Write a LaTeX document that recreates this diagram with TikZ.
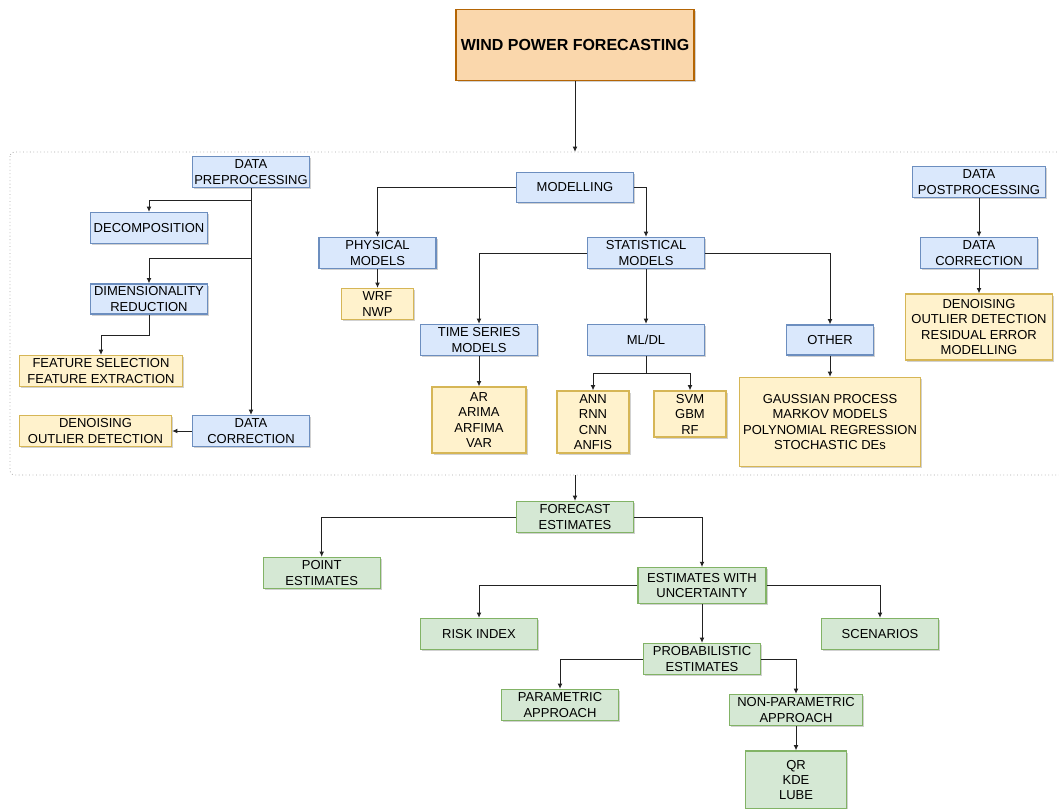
\documentclass[tikz,border=0pt]{standalone}
\usepackage{fontspec}
\setmainfont{Liberation Sans}
\usetikzlibrary{arrows.meta,shadows}
\definecolor{bfill}{HTML}{DAE8FC}\definecolor{bline}{HTML}{6C8EBF}
\definecolor{yfill}{HTML}{FFF2CC}\definecolor{yline}{HTML}{D6B656}
\definecolor{gfill}{HTML}{D5E8D4}\definecolor{gline}{HTML}{82B366}
\definecolor{ofill}{HTML}{FAD7AC}\definecolor{oline}{HTML}{B46504}
\definecolor{edgec}{HTML}{222222}
\tikzset{
  sz/.style 2 args={minimum width=#1*0.75pt, minimum height=#2*0.75pt},
  basebox/.style={draw, line width=0.9pt, inner sep=0pt, align=center,
    font=\fontsize{9.75}{11.6}\selectfont,
    drop shadow={shadow xshift=1.3pt, shadow yshift=-1.3pt, fill=black, opacity=0.18}},
  bluebox/.style={basebox, fill=bfill, draw=bline},
  yelbox/.style={basebox, fill=yfill, draw=yline},
  grnbox/.style={basebox, fill=gfill, draw=gline},
  orgbox/.style={basebox, fill=ofill, draw=oline, font=\fontsize{12}{14}\selectfont\bfseries},
  arr/.style={draw=edgec, line width=0.75pt, -{Latex[length=4pt,width=3.6pt]}},
  ln/.style={draw=edgec, line width=0.75pt},
  container/.style={draw=gray!70, dotted, line width=0.6pt, rounded corners=3pt}
}
\begin{document}
\begin{tikzpicture}[x=0.75pt,y=-0.75pt]
\useasboundingbox (0,0) rectangle (1059,808);
\clip (0,0) rectangle (1059,808);
% container
\draw[container] (10,152) rectangle (1075,475);
\coordinate (ctop) at (575,152);
\coordinate (cbot) at (575,475);
% top
\node[orgbox, sz={238}{71}] (wpf) at (575,45) {WIND POWER FORECASTING};
% preprocessing
\node[bluebox, sz={117}{31}] (pre) at (251,172) {DATA\\PREPROCESSING};
\node[bluebox, sz={117}{31}] (dec) at (149,228) {DECOMPOSITION};
\node[bluebox, sz={117}{30}] (dim) at (149,299) {DIMENSIONALITY\\REDUCTION};
\node[yelbox, sz={163}{31}] (feat) at (101,371) {FEATURE SELECTION\\FEATURE EXTRACTION};
\node[yelbox, sz={152}{31}] (den1) at (95.5,431) {DENOISING\\OUTLIER DETECTION};
\node[bluebox, sz={117}{31}] (dc1) at (251,431) {DATA\\CORRECTION};
% modelling
\node[bluebox, sz={117}{30}] (mod) at (575,187.5) {MODELLING};
\node[bluebox, sz={117}{31}] (phys) at (377.5,253) {PHYSICAL\\MODELS};
\node[yelbox, sz={72}{31}] (wrf) at (377.5,304) {WRF\\NWP};
\node[bluebox, sz={117}{31}] (stat) at (646,253) {STATISTICAL\\MODELS};
\node[bluebox, sz={117}{31}] (ts) at (479,340) {TIME SERIES\\MODELS};
\node[bluebox, sz={117}{31}] (ml) at (646,340) {ML/DL};
\node[bluebox, sz={87}{30}] (oth) at (830,340) {OTHER};
\node[yelbox, sz={94}{66}] (ar) at (479,420) {AR\\ARIMA\\ARFIMA\\VAR};
\node[yelbox, sz={72}{62}] (ann) at (593,422) {ANN\\RNN\\CNN\\ANFIS};
\node[yelbox, sz={72}{46}] (svm) at (690,414) {SVM\\GBM\\RF};
\node[yelbox, sz={181}{89}] (gp) at (830,422) {GAUSSIAN PROCESS\\MARKOV MODELS\\POLYNOMIAL REGRESSION\\STOCHASTIC DEs};
% postprocessing
\node[bluebox, sz={133}{31}] (post) at (979,182) {DATA\\POSTPROCESSING};
\node[bluebox, sz={117}{31}] (dc2) at (979,253) {DATA\\CORRECTION};
\node[yelbox, sz={147}{66}] (den2) at (979,327) {DENOISING\\OUTLIER DETECTION\\RESIDUAL ERROR\\MODELLING};
% estimates
\node[grnbox, sz={117}{31}] (fc) at (575,517) {FORECAST\\ESTIMATES};
\node[grnbox, sz={117}{31}] (pt) at (321.7,573) {POINT\\ESTIMATES};
\node[grnbox, sz={128}{36}] (ewu) at (702,585.7) {ESTIMATES WITH\\UNCERTAINTY};
\node[grnbox, sz={117}{31}] (risk) at (479,634) {RISK INDEX};
\node[grnbox, sz={117}{31}] (scen) at (880,634) {SCENARIOS};
\node[grnbox, sz={117}{31}] (prob) at (702,659) {PROBABILISTIC\\ESTIMATES};
\node[grnbox, sz={117}{31}] (par) at (560,705) {PARAMETRIC\\APPROACH};
\node[grnbox, sz={133}{31}] (nonp) at (796,710) {NON-PARAMETRIC\\APPROACH};
\node[grnbox, sz={101}{58}] (qr) at (796,780) {QR\\KDE\\LUBE};
% connectors
\draw[arr] (wpf.south) -- (ctop);
\draw[arr] (pre.south) -- (dc1.north);
\coordinate (pj1) at (251,200);
\coordinate (pj2) at (251,258);
\coordinate (dj) at (149,335);
\draw[arr] (pj1) -| (dec.north);
\draw[arr] (pj2) -| (dim.north);
\draw[arr] (dim.south) -- (dj) -| (feat.north);
\draw[arr] (dc1.west) -- (den1.east);
\draw[arr] (mod.west) -| (phys.north);
\draw[arr] (mod.east) -| (stat.north);
\draw[arr] (phys.south) -- (wrf.north);
\draw[arr] (stat.west) -| (ts.north);
\draw[arr] (stat.south) -- (ml.north);
\draw[arr] (stat.east) -| (oth.north);
\draw[arr] (ts.south) -- (ar.north);
\coordinate (mj) at (646,373);
\draw[ln] (ml.south) -- (mj);
\draw[arr] (mj) -| (ann.north);
\draw[arr] (mj) -| (svm.north);
\draw[arr] (oth.south) -- (gp.north);
\draw[arr] (post.south) -- (dc2.north);
\draw[arr] (dc2.south) -- (den2.north);
\draw[arr] (cbot) -- (fc.north);
\draw[arr] (fc.west) -| (pt.north);
\draw[arr] (fc.east) -| (ewu.north);
\draw[arr] (ewu.west) -| (risk.north);
\draw[arr] (ewu.east) -| (scen.north);
\draw[arr] (ewu.south) -- (prob.north);
\draw[arr] (prob.west) -| (par.north);
\draw[arr] (prob.east) -| (nonp.north);
\draw[arr] (nonp.south) -- (qr.north);
\end{tikzpicture}
\end{document}
